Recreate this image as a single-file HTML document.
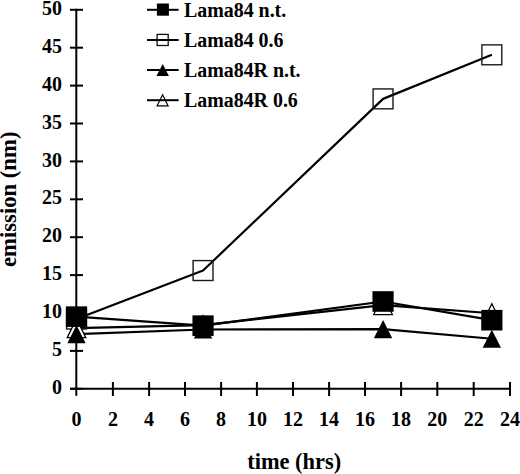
<!DOCTYPE html><html><head><meta charset="utf-8"><style>
html,body{margin:0;padding:0;background:#fff;width:520px;height:474px;overflow:hidden}
svg{display:block}
text{font-family:"Liberation Serif",serif;font-weight:bold;fill:#000}
</style></head><body>
<svg width="520" height="474" viewBox="0 0 520 474">
<g stroke="#000" stroke-width="2" fill="none">
<line x1="76.3" y1="8.8" x2="76.3" y2="395.8"/>
<line x1="70" y1="388.8" x2="511" y2="388.8"/>
<line x1="70" y1="388.8" x2="83" y2="388.8"/>
<line x1="70" y1="350.9" x2="83" y2="350.9"/>
<line x1="70" y1="313" x2="83" y2="313"/>
<line x1="70" y1="275.1" x2="83" y2="275.1"/>
<line x1="70" y1="237.2" x2="83" y2="237.2"/>
<line x1="70" y1="199.3" x2="83" y2="199.3"/>
<line x1="70" y1="161.4" x2="83" y2="161.4"/>
<line x1="70" y1="123.5" x2="83" y2="123.5"/>
<line x1="70" y1="85.6" x2="83" y2="85.6"/>
<line x1="70" y1="47.7" x2="83" y2="47.7"/>
<line x1="70" y1="9.8" x2="83" y2="9.8"/>
<line x1="112.9" y1="382" x2="112.9" y2="396"/>
<line x1="149.1" y1="382" x2="149.1" y2="396"/>
<line x1="185" y1="382" x2="185" y2="396"/>
<line x1="221.1" y1="382" x2="221.1" y2="396"/>
<line x1="256.9" y1="382" x2="256.9" y2="396"/>
<line x1="293" y1="382" x2="293" y2="396"/>
<line x1="329.1" y1="382" x2="329.1" y2="396"/>
<line x1="365" y1="382" x2="365" y2="396"/>
<line x1="401.1" y1="382" x2="401.1" y2="396"/>
<line x1="437.3" y1="382" x2="437.3" y2="396"/>
<line x1="473.7" y1="382" x2="473.7" y2="396"/>
<line x1="510" y1="382" x2="510" y2="396"/>
</g>
<text x="62.1" y="393.9" font-size="20" text-anchor="end">0</text>
<text x="62.1" y="356" font-size="20" text-anchor="end">5</text>
<text x="62.1" y="318.1" font-size="20" text-anchor="end">10</text>
<text x="62.1" y="280.2" font-size="20" text-anchor="end">15</text>
<text x="62.1" y="242.3" font-size="20" text-anchor="end">20</text>
<text x="62.1" y="204.4" font-size="20" text-anchor="end">25</text>
<text x="62.1" y="166.5" font-size="20" text-anchor="end">30</text>
<text x="62.1" y="128.6" font-size="20" text-anchor="end">35</text>
<text x="62.1" y="90.7" font-size="20" text-anchor="end">40</text>
<text x="62.1" y="52.8" font-size="20" text-anchor="end">45</text>
<text x="62.1" y="14.9" font-size="20" text-anchor="end">50</text>
<text x="76.5" y="425.8" font-size="20" text-anchor="middle">0</text>
<text x="112.9" y="425.8" font-size="20" text-anchor="middle">2</text>
<text x="149.1" y="425.8" font-size="20" text-anchor="middle">4</text>
<text x="185" y="425.8" font-size="20" text-anchor="middle">6</text>
<text x="221.1" y="425.8" font-size="20" text-anchor="middle">8</text>
<text x="256.9" y="425.8" font-size="20" text-anchor="middle">10</text>
<text x="293" y="425.8" font-size="20" text-anchor="middle">12</text>
<text x="329.1" y="425.8" font-size="20" text-anchor="middle">14</text>
<text x="365" y="425.8" font-size="20" text-anchor="middle">16</text>
<text x="401.1" y="425.8" font-size="20" text-anchor="middle">18</text>
<text x="437.3" y="425.8" font-size="20" text-anchor="middle">20</text>
<text x="473.7" y="425.8" font-size="20" text-anchor="middle">22</text>
<text x="510" y="425.8" font-size="20" text-anchor="middle">24</text>
<text x="294.2" y="468.6" font-size="22.4" text-anchor="middle">time (hrs)</text>
<text transform="translate(16,199.3) rotate(-90)" x="0" y="0" font-size="22.7" text-anchor="middle">emission (nm)</text>
<g stroke="#000" stroke-width="2.2" fill="none" stroke-linejoin="round">
<polyline points="76.5,316.64 203.05,325.66 383.05,301.48 491.85,320.2"/>
<polyline points="76.5,319.06 203.05,270.55 383.05,98.87 491.85,54.83"/>
<polyline points="76.5,334.22 203.05,329.52 383.05,329.15 491.85,338.77"/>
<polyline points="76.5,328.16 203.05,325.13 383.05,305.04 491.85,313.23"/>
</g>
<rect x="66.55" y="309.11" width="19.9" height="19.9" fill="none" stroke="#1a1a1a" stroke-width="1.4"/>
<rect x="193.1" y="260.6" width="19.9" height="19.9" fill="none" stroke="#1a1a1a" stroke-width="1.4"/>
<rect x="373.1" y="88.92" width="19.9" height="19.9" fill="none" stroke="#1a1a1a" stroke-width="1.4"/>
<rect x="481.9" y="44.88" width="19.9" height="19.9" fill="none" stroke="#1a1a1a" stroke-width="1.4"/>
<polygon points="76.5,318.66 85.8,337.66 67.2,337.66" fill="#fff" stroke="#000" stroke-width="1.3" stroke-linejoin="miter"/>
<polygon points="203.05,315.63 212.35,334.63 193.75,334.63" fill="#fff" stroke="#000" stroke-width="1.3" stroke-linejoin="miter"/>
<polygon points="383.05,295.54 392.35,314.54 373.75,314.54" fill="#fff" stroke="#000" stroke-width="1.3" stroke-linejoin="miter"/>
<polygon points="491.85,303.73 501.15,322.73 482.55,322.73" fill="#fff" stroke="#000" stroke-width="1.3" stroke-linejoin="miter"/>
<polygon points="76.5,325.12 85.65,343.32 67.35,343.32" fill="#000"/>
<polygon points="203.05,320.42 212.2,338.62 193.9,338.62" fill="#000"/>
<polygon points="383.05,320.05 392.2,338.25 373.9,338.25" fill="#000"/>
<polygon points="491.85,329.67 501,347.87 482.7,347.87" fill="#000"/>
<rect x="65.9" y="306.34" width="21.2" height="20.6" fill="#000"/>
<rect x="192.45" y="315.36" width="21.2" height="20.6" fill="#000"/>
<rect x="372.45" y="291.18" width="21.2" height="20.6" fill="#000"/>
<rect x="481.25" y="309.9" width="21.2" height="20.6" fill="#000"/>
<g stroke="#000" stroke-width="2">
<line x1="147" y1="9.8" x2="178.6" y2="9.8"/>
<line x1="147" y1="40" x2="178.6" y2="40"/>
<line x1="147" y1="70" x2="178.6" y2="70"/>
<line x1="147" y1="100.2" x2="178.6" y2="100.2"/>
</g>
<rect x="156.9" y="3.5" width="12" height="12.2" fill="#000"/>
<rect x="157.1" y="34.4" width="11.1" height="11.1" fill="none" stroke="#111" stroke-width="1.3"/>
<polygon points="162.7,64 168.9,76 156.5,76" fill="#000"/>
<polygon points="162.6,94.85 168.1,105.85 157.1,105.85" fill="none" stroke="#000" stroke-width="1.2" stroke-linejoin="miter"/>
<text x="184" y="16.8" font-size="19.9">Lama84 n.t.</text>
<text x="184" y="47" font-size="19.9">Lama84 0.6</text>
<text x="184" y="77" font-size="19.9">Lama84R n.t.</text>
<text x="184" y="107.2" font-size="19.9">Lama84R 0.6</text>
</svg></body></html>
